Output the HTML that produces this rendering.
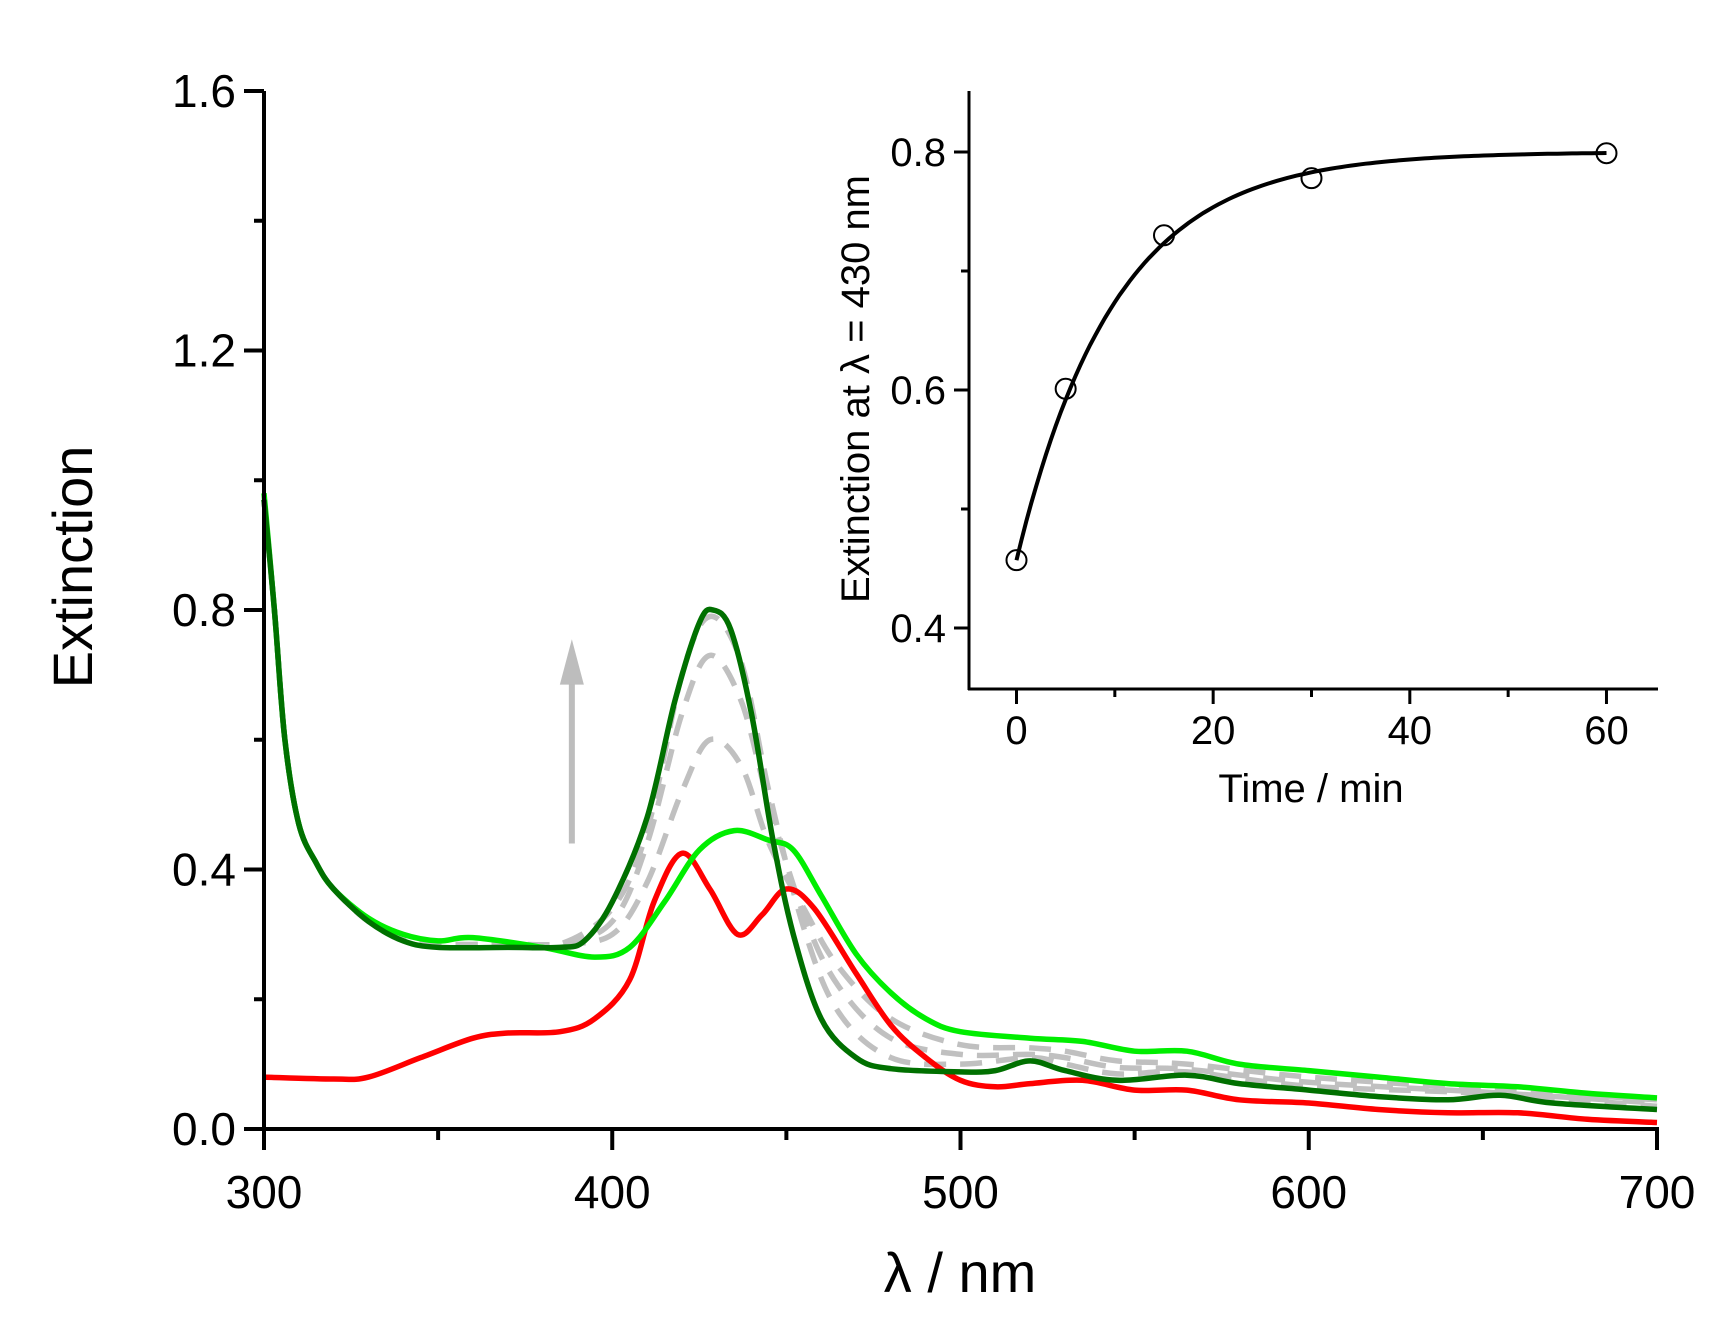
<!DOCTYPE html>
<html><head><meta charset="utf-8"><style>
html,body{margin:0;padding:0;background:#fff;}
svg{display:block;font-family:"Liberation Sans","DejaVu Sans",sans-serif;}
</style></head><body>
<svg id="chart" width="1733" height="1323" viewBox="0 0 1733 1323" xmlns="http://www.w3.org/2000/svg">
<g id="main"></g>
<g id="inset"></g>
</svg>
<script>
// ---- main spectra data ----
const redWl   = [300,320,330,345,360,370,385,395,405,412,420,428,436,443,450,458,470,480,490,500,510,520,535,550,565,580,600,620,640,660,680,700];
const redVal  = [0.08,0.077,0.08,0.11,0.14,0.148,0.15,0.17,0.23,0.35,0.425,0.37,0.30,0.33,0.37,0.34,0.24,0.16,0.11,0.075,0.065,0.07,0.075,0.06,0.06,0.045,0.04,0.03,0.025,0.025,0.015,0.01];
const darkWl  = [300,303,306,310,315,320,330,340,350,370,385,392,400,410,418,425,429,434,440,446,452,460,470,480,500,510,520,530,545,565,580,600,620,640,655,670,700];
const darkVal = [0.97,0.80,0.60,0.47,0.41,0.37,0.32,0.29,0.28,0.28,0.28,0.29,0.35,0.48,0.66,0.78,0.80,0.77,0.64,0.45,0.30,0.17,0.11,0.093,0.088,0.09,0.105,0.09,0.075,0.083,0.07,0.06,0.05,0.045,0.052,0.04,0.03];
const lightWl = [300,303,306,310,315,320,330,340,350,360,380,395,405,415,425,435,445,452,460,470,480,490,500,520,535,550,565,580,600,620,640,660,680,700];
const lightVal= [0.98,0.80,0.60,0.47,0.41,0.37,0.325,0.30,0.29,0.295,0.28,0.265,0.28,0.35,0.43,0.46,0.445,0.43,0.36,0.27,0.21,0.17,0.15,0.14,0.135,0.12,0.12,0.10,0.09,0.08,0.07,0.065,0.055,0.048];
const grayWl  = [300,303,306,310,315,320,330,340,350,370,385,400,410,420,428,437,445,455,465,480,500,520,530,545,565,600,650,700];
const gray1Val= [0.97,0.80,0.60,0.47,0.41,0.37,0.32,0.295,0.285,0.285,0.285,0.30,0.38,0.52,0.60,0.56,0.44,0.34,0.25,0.17,0.13,0.125,0.12,0.105,0.10,0.08,0.062,0.045];
const gray2Val= [0.97,0.80,0.60,0.47,0.41,0.37,0.32,0.295,0.285,0.285,0.285,0.32,0.44,0.64,0.73,0.66,0.50,0.33,0.22,0.14,0.115,0.115,0.11,0.095,0.092,0.072,0.057,0.04];
const gray3Val= [0.97,0.80,0.60,0.47,0.41,0.37,0.32,0.295,0.285,0.285,0.285,0.34,0.46,0.70,0.79,0.72,0.52,0.31,0.18,0.11,0.10,0.11,0.10,0.085,0.088,0.066,0.055,0.035];
const xTicks = [300,400,500,600,700];
const xTickLabels = ["300","400","500","600","700"];
const yTicks = [0,0.4,0.8,1.2,1.6];
const yTickLabels = ["0.0","0.4","0.8","1.2","1.6"];
// ---- inset data ----
const insetTime = [0,5,15,30,60];
const insetVal  = [0.457,0.601,0.730,0.778,0.799];
const fitParams = [0.800,0.343,10.0]; // plateau, amplitude, tau (min)
const insetXTicks = [0,20,40,60];
const insetYTicks = [0.4,0.6,0.8];
const insetYTickLabels = ["0.4","0.6","0.8"];

const NS="http://www.w3.org/2000/svg";
function mk(tag,attrs,parent){const e=document.createElementNS(NS,tag);for(const k in attrs)e.setAttribute(k,attrs[k]);parent.appendChild(e);return e;}
const X=l=>264+(l-300)*3.4825, Y=v=>1129-v*648.75;
const XI=t=>1016.5+t*9.833, YI=v=>628-(v-0.4)*1190;
function smoothPath(xs,ys){
  const p=xs.map((x,i)=>[x,ys[i]]);let d=`M${p[0][0].toFixed(1)},${p[0][1].toFixed(1)}`;
  for(let i=0;i<p.length-1;i++){const p0=p[Math.max(i-1,0)],p1=p[i],p2=p[i+1],p3=p[Math.min(i+2,p.length-1)];
    const c1=[p1[0]+(p2[0]-p0[0])/6,p1[1]+(p2[1]-p0[1])/6],c2=[p2[0]-(p3[0]-p1[0])/6,p2[1]-(p3[1]-p1[1])/6];
    d+=` C${c1[0].toFixed(1)},${c1[1].toFixed(1)} ${c2[0].toFixed(1)},${c2[1].toFixed(1)} ${p2[0].toFixed(1)},${p2[1].toFixed(1)}`;}
  return d;}
const main=document.getElementById('main'), inset=document.getElementById('inset');

function series(wl,val,color,name,dash){
  const e=mk('path',{d:smoothPath(wl.map(X),val.map(Y)),fill:'none',stroke:color,'stroke-width':5.5,'stroke-linejoin':'round'},main);
  if(dash)e.setAttribute('stroke-dasharray',dash);
  
  
}
series(grayWl,gray1Val,'#c0c0c0','gray-dashed-spectrum-1','22 14');
series(grayWl,gray2Val,'#c0c0c0','gray-dashed-spectrum-2','22 14');
series(grayWl,gray3Val,'#c0c0c0','gray-dashed-spectrum-3','22 14');
series(redWl,redVal,'#ff0000','red-spectrum');
series(lightWl,lightVal,'#00ee00','light-green-spectrum');
series(darkWl,darkVal,'#007000','dark-green-spectrum');

const arr=mk('g',{},main);


mk('line',{x1:X(388.4),y1:Y(0.44),x2:X(388.4),y2:Y(0.70),stroke:'#bdbdbd','stroke-width':6},arr);
mk('polygon',{points:`${X(388.4)-12},${Y(0.685)} ${X(388.4)+12},${Y(0.685)} ${X(388.4)},${Y(0.755)}`,fill:'#bdbdbd'},arr);

const ax=mk('g',{stroke:'#000','stroke-width':4,fill:'none'},main);


mk('line',{x1:264,y1:Y(1.6),x2:264,y2:1131},ax);
mk('line',{x1:262,y1:1129,x2:1659,y2:1129},ax);
xTicks.forEach((t,i)=>{mk('line',{x1:X(t),y1:1129,x2:X(t),y2:1150},ax);
  const tx=mk('text',{x:X(t),y:1208,'text-anchor':'middle','font-size':46,fill:'#000',stroke:'none'},main);tx.textContent=xTickLabels[i];
  
  });
[350,450,550,650].forEach(t=>mk('line',{x1:X(t),y1:1129,x2:X(t),y2:1140},ax));
yTicks.forEach((t,i)=>{mk('line',{x1:244,y1:Y(t),x2:264,y2:Y(t)},ax);
  const tx=mk('text',{x:236,y:Y(t)+16,'text-anchor':'end','font-size':46,fill:'#000',stroke:'none'},main);tx.textContent=yTickLabels[i];
  
  });
[0.2,0.6,1.0,1.4].forEach(t=>mk('line',{x1:254,y1:Y(t),x2:264,y2:Y(t)},ax));
const xt=mk('text',{x:960,y:1292,'text-anchor':'middle','font-size':56,fill:'#000'},main);xt.textContent='λ / nm';


const yt=mk('text',{x:0,y:0,'text-anchor':'middle','font-size':56,fill:'#000',transform:'translate(92,567) rotate(-90)'},main);yt.textContent='Extinction';



const fitT=[],fitV=[];for(let t=0;t<=60;t+=0.5){fitT.push(XI(t));fitV.push(YI(fitParams[0]-fitParams[1]*Math.exp(-t/fitParams[2])));}
const fit=mk('path',{d:'M'+fitT.map((x,i)=>x.toFixed(1)+','+fitV[i].toFixed(1)).join(' L'),fill:'none',stroke:'#000','stroke-width':4},inset);


insetTime.forEach((t,i)=>{const c=mk('circle',{cx:XI(t),cy:YI(insetVal[i]),r:10,fill:'none',stroke:'#000','stroke-width':2},inset);
  
  });
const iax=mk('g',{stroke:'#000','stroke-width':3,fill:'none'},inset);


mk('line',{x1:969,y1:91,x2:969,y2:690},iax);
mk('line',{x1:968,y1:689,x2:1658,y2:689},iax);
insetXTicks.forEach(t=>{mk('line',{x1:XI(t),y1:689,x2:XI(t),y2:704},iax);
  const tx=mk('text',{x:XI(t),y:744,'text-anchor':'middle','font-size':40,fill:'#000',stroke:'none'},inset);tx.textContent=String(t);
  
  });
[10,30,50].forEach(t=>mk('line',{x1:XI(t),y1:689,x2:XI(t),y2:697},iax));
insetYTicks.forEach((v,i)=>{mk('line',{x1:954,y1:YI(v),x2:969,y2:YI(v)},iax);
  const tx=mk('text',{x:946,y:YI(v)+14,'text-anchor':'end','font-size':40,fill:'#000',stroke:'none'},inset);tx.textContent=insetYTickLabels[i];
  
  });
[0.5,0.7].forEach(v=>mk('line',{x1:961,y1:YI(v),x2:969,y2:YI(v)},iax));
const ixt=mk('text',{x:1311,y:802,'text-anchor':'middle','font-size':40,fill:'#000'},inset);ixt.textContent='Time / min';


const iyt=mk('text',{x:0,y:0,'text-anchor':'middle','font-size':40,fill:'#000',transform:'translate(869,389) rotate(-90)'},inset);iyt.textContent='Extinction at λ = 430 nm';


</script>
</body></html>
